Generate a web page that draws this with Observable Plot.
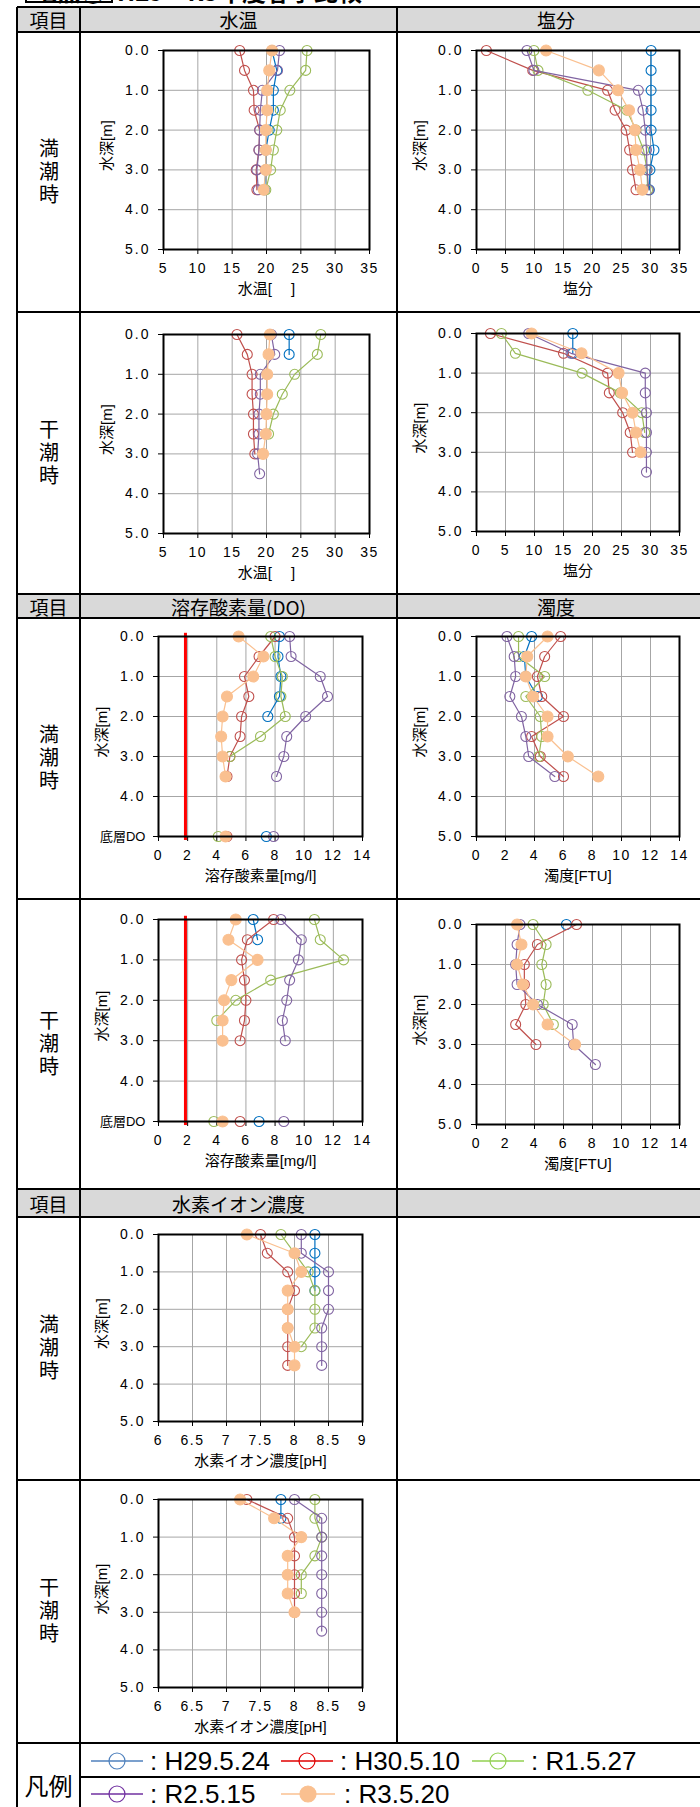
<!DOCTYPE html>
<html><head><meta charset="utf-8">
<script src="https://cdn.jsdelivr.net/npm/d3@7"></script>
<script src="https://cdn.jsdelivr.net/npm/@observablehq/plot@0.6"></script>
<style>
html,body{margin:0;padding:0;background:#fff;}
body{width:700px;height:1807px;position:relative;overflow:hidden;font-family:"Liberation Sans","Noto Sans CJK JP",sans-serif;color:#000;}
.hl{position:absolute;height:2px;background:#000;}
.vl{position:absolute;width:2px;background:#000;}
.hdr{position:absolute;background:#d9d9d9;}
.cell{position:absolute;display:flex;align-items:center;justify-content:center;font-family:"Noto Sans CJK JP",sans-serif;white-space:nowrap;line-height:1;}
.vert{writing-mode:vertical-rl;text-orientation:upright;letter-spacing:3px;}
.panel{position:absolute;}
.panel svg{overflow:visible;display:block;}
g[aria-label="y-axis tick label"] text{letter-spacing:2px;}
g[aria-label="x-axis tick label"] text{letter-spacing:1.5px;}
.leg{position:absolute;display:flex;align-items:center;font-size:26px;line-height:1;font-family:"Liberation Sans",sans-serif;}
</style></head><body>
<script>
// ---------------- data ----------------
const seriesNames = ["H29.5.24", "H30.5.10", "R1.5.27", "R2.5.15", "R3.5.20"];
const seriesColors = ["#0070C0", "#C0504D", "#9BBB59", "#8064A2", "#FAC090"];
const legendColors = ["#4F81BD", "#E00000", "#92D050", "#7030A0", "#FAC090"];
const depths = [0, 0.5, 1, 1.5, 2, 2.5, 3, 3.5];
const depthTicks = [0, 1, 2, 3, 4, 5];
const tempTicks = [5, 10, 15, 20, 25, 30, 35];
const salinityTicks = [0, 5, 10, 15, 20, 25, 30, 35];
const doTicks = [0, 2, 4, 6, 8, 10, 12, 14];
const turbTicks = [0, 2, 4, 6, 8, 10, 12, 14];
const phTicks = [6, 6.5, 7, 7.5, 8, 8.5, 9];
const doStandard = [1.85];

// rows = series (H29, H30, R1, R2, R3); columns = depths 0.0 .. 3.5 m
const tempHigh = [
  [20.8, 21.5, 21.0, 21.0, 20.4, 19.9, 19.9, 19.7],
  [16.1, 16.8, 18.1, 18.2, 19.0, 18.9, 18.5, 18.6],
  [25.9, 25.7, 23.4, 22.0, 21.5, 21.0, 20.6, 19.9],
  [21.9, 21.6, 19.4, 19.1, 19.0, 18.9, 18.6, 18.8],
  [20.8, 20.4, 20.1, 20.1, 19.9, 19.9, 19.9, 19.6]
];
const salinityHigh = [
  [30.1, 30.1, 30.1, 30.1, 30.1, 30.6, 29.9, 29.8],
  [1.7, 9.7, 22.6, 23.9, 25.8, 26.4, 26.9, 27.5],
  [9.9, 10.6, 19.2, 25.9, 27.5, 28.8, 29.4, 29.5],
  [8.7, 9.9, 27.9, 28.7, 29.1, 29.3, 29.4, 29.7],
  [12.0, 21.1, 24.4, 26.3, 27.3, 27.5, 28.2, 28.6]
];
const tempLow = [
  [23.3, 23.3, null, null, null, null, null, null],
  [15.7, 17.2, 17.9, 17.9, 18.1, 18.1, 18.3, null],
  [27.9, 27.4, 24.1, 22.3, 21.0, 20.3, null, null],
  [20.7, 21.2, 19.1, 19.1, 18.9, 18.9, 18.7, 19.0],
  [20.5, 20.3, 20.1, 20.1, 20.0, 19.9, 19.5, null]
];
const salinityLow = [
  [16.6, 16.6, null, null, null, null, null, null],
  [2.4, 15.0, 22.6, 22.9, 25.2, 26.5, 26.9, null],
  [4.3, 6.7, 18.2, 24.8, 28.5, 29.0, null, null],
  [9.0, 16.3, 29.1, 29.1, 29.3, 29.3, 29.3, 29.3],
  [9.5, 18.1, 24.5, 25.1, 26.9, 27.5, 28.3, null]
];
const doHigh = [
  [8.3, 8.2, 8.4, 8.3, 7.5, null, null, null],
  [8.0, 6.9, 5.9, 6.2, 5.7, 5.6, 4.9, 4.7],
  [7.7, 8.0, 8.5, 8.4, 8.7, 7.0, 4.9, null],
  [9.0, 9.1, 11.1, 11.6, 10.1, 8.8, 8.6, 8.1],
  [5.5, 7.2, 6.5, 4.7, 4.4, 4.3, 4.4, 4.6]
];
const doHighBottom = [7.4, 4.7, 4.1, 7.9, 4.6];
const turbHigh = [
  [3.8, 3.3, 3.4, 4.2, null, null, null, null],
  [5.8, 4.7, 4.2, 4.5, 6.0, 3.8, 4.4, 6.0],
  [2.9, 2.9, 4.7, 3.4, 4.4, 4.5, 4.3, null],
  [2.1, 2.6, 2.7, 2.3, 3.1, 3.4, 3.6, 5.4],
  [4.9, 3.5, 3.4, 3.9, 4.9, 4.9, 6.3, 8.4]
];
const doLow = [
  [6.5, 6.8, null, null, null, null, null, null],
  [7.9, 6.1, 5.7, 5.9, 6.0, 5.9, 5.6, null],
  [10.7, 11.1, 12.7, 7.7, 5.3, 4.0, null, null],
  [8.4, 9.8, 9.6, 9.0, 8.8, 8.5, 8.7, null],
  [5.3, 4.8, 6.8, 5.0, 4.5, 4.4, 4.4, null]
];
const doLowBottom = [6.9, 5.6, 3.8, 8.6, 4.4];
const turbLow = [
  [6.2, null, null, null, null, null, null, null],
  [6.9, 4.2, 3.3, 3.3, 3.4, 2.7, 4.1, null],
  [3.9, 4.8, 4.5, 4.8, 4.6, 5.3, null, null],
  [3.0, 2.8, 2.7, 2.8, 4.2, 6.6, 6.7, 8.2],
  [2.8, 3.1, 2.8, 3.2, 3.9, 4.9, 6.8, null]
];
const phHigh = [
  [8.3, 8.3, 8.3, 8.3, null, null, null, null],
  [7.5, 7.6, 7.9, 8.0, 7.9, 7.9, 7.9, 7.9],
  [7.8, 8.0, 8.2, 8.3, 8.3, 8.3, 8.1, null],
  [8.1, 8.1, 8.5, 8.5, 8.5, 8.4, 8.4, 8.4],
  [7.3, 8.0, 8.1, 7.9, 7.9, 7.9, 8.0, 8.0]
];
const phLow = [
  [7.8, 7.8, null, null, null, null, null, null],
  [7.3, 7.9, 8.0, 8.0, 8.0, 8.0, 8.0, null],
  [8.3, 8.3, 8.4, 8.3, 8.1, 8.1, null, null],
  [8.0, 8.4, 8.4, 8.4, 8.4, 8.4, 8.4, 8.4],
  [7.2, 7.7, 8.1, 7.9, 7.9, 7.9, 8.0, null]
];

// ---------------- helpers ----------------
function toRows(matrix) {
  const rows = [];
  matrix.forEach((vals, i) => vals.forEach((v, j) => {
    if (v != null) rows.push({series: seriesNames[i], depth: depths[j], value: v});
  }));
  return rows;
}
function bottomRows(vals) {
  return vals.map((v, i) => v == null ? null : {series: seriesNames[i], depth: 5, value: v}).filter(Boolean);
}
function el(cls, css, html) {
  const d = document.createElement("div");
  d.className = cls;
  Object.assign(d.style, css);
  if (html != null) d.innerHTML = html;
  document.body.appendChild(d);
  return d;
}
const fmt1 = d => d.toFixed(1);

function panel(cfg) {
  const {cell, plot, xDomain, xTicks, xLabel, matrix, bottom, standard} = cfg;
  const width = cell.x2 - cell.x1, height = cell.y2 - cell.y1;
  const rows = toRows(matrix);
  const bot = bottom ? bottomRows(bottom) : [];
  const yFormat = bottom ? (d => d === 5 ? "底層DO" : fmt1(d)) : fmt1;
  const marks = [
    Plot.gridX(xTicks, {stroke: "#a6a6a6", strokeOpacity: 1, strokeWidth: 1}),
    Plot.gridY(depthTicks, {stroke: "#a6a6a6", strokeOpacity: 1, strokeWidth: 1}),
    Plot.axisX(xTicks, {tickSize: 5, tickPadding: 9, label: null, tickFormat: d => String(d), stroke: "#000"}),
    Plot.axisY(depthTicks, {tickSize: 5, tickPadding: 8, label: null, tickFormat: yFormat, stroke: "#000"})
  ];
  if (standard) marks.push(Plot.ruleX(standard, {y1: -0.08, y2: 5.1, stroke: "#FF0000", strokeWidth: 3}));
  seriesNames.forEach((s, i) => {
    const sr = rows.filter(d => d.series === s);
    const filled = i === 4;
    marks.push(Plot.line(sr, {x: "value", y: "depth", stroke: "series", strokeWidth: 1.2}));
    const pts = sr.concat(bot.filter(d => d.series === s));
    marks.push(Plot.dot(pts, {x: "value", y: "depth", r: filled ? 5.5 : 5, stroke: "series",
      fill: filled ? "series" : "none", strokeWidth: 1.1}));
  });
  marks.push(Plot.frame({stroke: "#000", strokeWidth: 2}));
  marks.push(Plot.text([xLabel], {text: d => d, frameAnchor: "bottom", dy: 44, fontSize: 15}));
  marks.push(Plot.text(["水深[m]"], {text: d => d, frameAnchor: "left", dx: -56, dy: 21, rotate: -90, fontSize: 15}));
  const svg = Plot.plot({
    width, height,
    marginLeft: plot.x1 - cell.x1, marginRight: cell.x2 - plot.x2,
    marginTop: plot.y1 - cell.y1, marginBottom: cell.y2 - plot.y2,
    x: {domain: xDomain},
    y: {domain: [0, 5], reverse: true},
    color: {domain: seriesNames, range: seriesColors},
    style: {fontFamily: '"Liberation Sans","Noto Sans CJK JP",sans-serif', fontSize: "14px", color: "#000", background: "transparent", overflow: "visible"},
    marks
  });
  svg.querySelectorAll("text").forEach(t => {
    if (t.textContent === "底層DO") { t.style.letterSpacing = "0px"; t.style.fontSize = "13px"; }
  });
  const holder = el("panel", {left: cell.x1 + "px", top: cell.y1 + "px", width: width + "px", height: height + "px"});
  holder.appendChild(svg);
}

// ---------------- layout ----------------
const L = 17, C1 = 80, C2 = 397, R = 715;
// header backgrounds
[[7, 32], [594, 618], [1189, 1217]].forEach(([a, b]) =>
  el("hdr", {left: L + "px", top: a + "px", width: (R - L) + "px", height: (b - a) + "px"}));

// title (mostly cut off at top, as in the reference)
el("cell", {left: "25px", top: "-19px", height: "24px", justifyContent: "flex-start", alignItems: "flex-start", fontSize: "24px", fontWeight: "bold"},
  '<span style="border:2px solid #000;border-top:none;padding:0 6px;line-height:20px">地点②</span><span style="margin-left:4px;line-height:20px">H29～R3年度春季比較</span>');

// panels
panel({cell: {x1: 82, y1: 34, x2: 396, y2: 311}, plot: {x1: 163, y1: 50, x2: 369, y2: 249},
  xDomain: [5, 35], xTicks: tempTicks, xLabel: "水温[　 ]", matrix: tempHigh});
panel({cell: {x1: 399, y1: 34, x2: 700, y2: 311}, plot: {x1: 476, y1: 50, x2: 679, y2: 249},
  xDomain: [0, 35], xTicks: salinityTicks, xLabel: "塩分", matrix: salinityHigh});
panel({cell: {x1: 82, y1: 314, x2: 396, y2: 593}, plot: {x1: 163, y1: 334, x2: 369, y2: 533},
  xDomain: [5, 35], xTicks: tempTicks, xLabel: "水温[　 ]", matrix: tempLow});
panel({cell: {x1: 399, y1: 314, x2: 700, y2: 593}, plot: {x1: 476, y1: 333, x2: 679, y2: 531},
  xDomain: [0, 35], xTicks: salinityTicks, xLabel: "塩分", matrix: salinityLow});
panel({cell: {x1: 82, y1: 620, x2: 396, y2: 898}, plot: {x1: 158, y1: 636, x2: 362, y2: 836},
  xDomain: [0, 14], xTicks: doTicks, xLabel: "溶存酸素量[mg/l]", matrix: doHigh, bottom: doHighBottom, standard: doStandard});
panel({cell: {x1: 399, y1: 620, x2: 700, y2: 898}, plot: {x1: 476, y1: 636, x2: 679, y2: 836},
  xDomain: [0, 14], xTicks: turbTicks, xLabel: "濁度[FTU]", matrix: turbHigh});
panel({cell: {x1: 82, y1: 901, x2: 396, y2: 1188}, plot: {x1: 158, y1: 919, x2: 362, y2: 1121},
  xDomain: [0, 14], xTicks: doTicks, xLabel: "溶存酸素量[mg/l]", matrix: doLow, bottom: doLowBottom, standard: doStandard});
panel({cell: {x1: 399, y1: 901, x2: 700, y2: 1188}, plot: {x1: 476, y1: 924, x2: 679, y2: 1124},
  xDomain: [0, 14], xTicks: turbTicks, xLabel: "濁度[FTU]", matrix: turbLow});
panel({cell: {x1: 82, y1: 1219, x2: 396, y2: 1479}, plot: {x1: 158, y1: 1234, x2: 362, y2: 1421},
  xDomain: [6, 9], xTicks: phTicks, xLabel: "水素イオン濃度[pH]", matrix: phHigh});
panel({cell: {x1: 82, y1: 1482, x2: 396, y2: 1742}, plot: {x1: 158, y1: 1499, x2: 362, y2: 1687},
  xDomain: [6, 9], xTicks: phTicks, xLabel: "水素イオン濃度[pH]", matrix: phLow});

// header texts
const hdrFont = {fontSize: "19px"};
[[7, 32, "水温", "塩分"], [594, 618, "溶存酸素量(DO)", "濁度"], [1189, 1217, "水素イオン濃度", ""]].forEach(([a, b, t1, t2]) => {
  el("cell", Object.assign({left: L + "px", top: a + "px", width: (C1 - L) + "px", height: (b - a) + "px"}, hdrFont), "項目");
  el("cell", Object.assign({left: C1 + "px", top: a + "px", width: (C2 - C1) + "px", height: (b - a) + "px"}, hdrFont), t1);
  el("cell", Object.assign({left: C2 + "px", top: a + "px", width: (R - C2) + "px", height: (b - a) + "px"}, hdrFont), t2);
});
// row labels
[[32, 312, "満潮時"], [312, 594, "干潮時"], [618, 899, "満潮時"], [899, 1189, "干潮時"], [1217, 1480, "満潮時"], [1480, 1743, "干潮時"]]
  .forEach(([a, b, t]) => el("cell", {left: L + "px", top: a + "px", width: (C1 - L) + "px", height: (b - a) + "px", fontSize: "20px"}, '<span class="vert">' + t + '</span>'));
el("cell", {left: L + "px", top: "1743px", width: (C1 - L) + "px", height: "84px", fontSize: "24px"}, "凡例");

// legend
const legendPos = [[91, 1761], [281, 1761], [472, 1761], [91, 1794], [281, 1794]];
seriesNames.forEach((s, i) => {
  const [x, y] = legendPos[i];
  const c = legendColors[i];
  const filled = i === 4;
  const w = filled ? 54 : 52;
  el("leg", {left: x + "px", top: (y - 15) + "px", height: "30px"},
    `<svg width="${w}" height="20" style="display:block"><line x1="0" x2="${w}" y1="10" y2="10" stroke="${c}" stroke-width="1.5"/>` +
    `<circle cx="${w / 2}" cy="10" r="8" stroke="${c}" stroke-width="1.2" fill="${filled ? c : "none"}"/></svg>` +
    `<span style="margin-left:${filled ? 9 : 7}px">: ${s}</span>`);
});

// table lines
[[7, L, 700], [32, L, 700], [312, L, 700], [594, L, 700], [618, L, 700], [899, L, 700], [1189, L, 700], [1217, L, 700], [1480, L, 700], [1743, L, 700], [1777, C1, 700]]
  .forEach(([y, a, b]) => el("hl", {left: a + "px", top: (y - 1) + "px", width: (b - a) + "px"}));
[[L, 7, 1807], [C1, 7, 1807], [C2, 7, 1743]]
  .forEach(([x, a, b]) => el("vl", {left: (x - 1) + "px", top: a + "px", height: (b - a) + "px"}));
</script>
</body></html>
